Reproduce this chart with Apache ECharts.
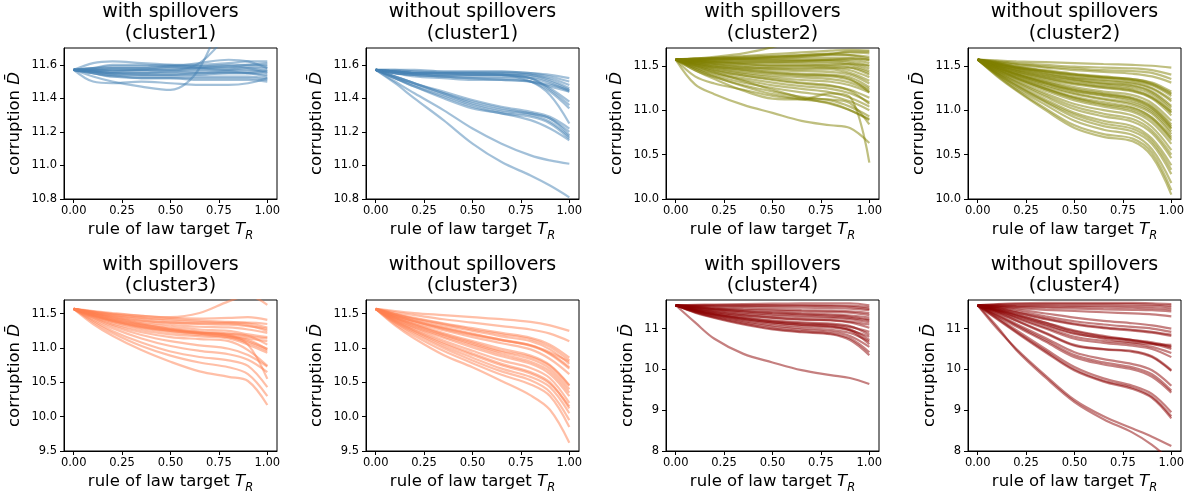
<!DOCTYPE html>
<html><head><meta charset="utf-8">
<script src="https://cdn.jsdelivr.net/npm/echarts@6/dist/echarts.min.js"></script>
<style>html,body{margin:0;padding:0;background:#fff}#c{width:1190px;height:498px}</style>
</head><body><div id="c"></div>
<script>
// x positions (rule of law target T_R) at which each curve is sampled
const X_VALUES = [0, 0.1, 0.2, 0.35, 0.5, 0.65, 0.8, 0.9, 1.0];

// with spillovers, cluster1
const withSpill1 = [
  [11.57,11.58,11.59,11.59,11.60,11.60,11.61,11.62,11.62],
  [11.57,11.57,11.58,11.58,11.59,11.59,11.60,11.60,11.60],
  [11.57,11.57,11.57,11.57,11.58,11.58,11.58,11.59,11.59],
  [11.57,11.56,11.56,11.56,11.56,11.57,11.57,11.58,11.58],
  [11.57,11.56,11.55,11.55,11.55,11.55,11.56,11.56,11.57],
  [11.57,11.56,11.55,11.54,11.54,11.54,11.55,11.55,11.56],
  [11.57,11.55,11.54,11.54,11.54,11.55,11.55,11.55,11.54],
  [11.57,11.56,11.55,11.55,11.56,11.56,11.56,11.55,11.53],
  [11.57,11.55,11.53,11.53,11.53,11.53,11.53,11.53,11.52],
  [11.57,11.55,11.53,11.52,11.52,11.52,11.52,11.52,11.51],
  [11.57,11.56,11.54,11.52,11.52,11.51,11.51,11.51,11.50],
  [11.57,11.61,11.62,11.61,11.60,11.59,11.59,11.58,11.56],
  [11.57,11.58,11.58,11.58,11.59,11.61,11.63,11.62,11.58],
  [11.57,11.50,11.49,11.50,11.49,11.48,11.48,11.49,11.52],
  [11.57,11.53,11.50,11.47,11.45,11.58,12.00,12.30,12.60],
  [11.57,11.57,11.57,11.57,11.57,11.61,11.80,12.00,12.20],
  [11.57,11.58,11.60,11.60,11.59,11.58,11.57,11.57,11.55],
  [11.57,11.57,11.56,11.57,11.57,11.58,11.59,11.60,11.61]
];

// without spillovers, cluster1
const withoutSpill1 = [
  [11.57,11.57,11.57,11.56,11.56,11.56,11.55,11.54,11.52],
  [11.57,11.57,11.56,11.56,11.56,11.56,11.55,11.53,11.50],
  [11.57,11.56,11.56,11.55,11.55,11.55,11.54,11.52,11.48],
  [11.57,11.56,11.55,11.55,11.55,11.55,11.54,11.51,11.46],
  [11.57,11.56,11.55,11.54,11.54,11.54,11.53,11.50,11.45],
  [11.57,11.55,11.54,11.53,11.53,11.53,11.52,11.49,11.44],
  [11.57,11.55,11.53,11.52,11.51,11.51,11.50,11.48,11.45],
  [11.57,11.55,11.54,11.53,11.52,11.51,11.50,11.47,11.44],
  [11.57,11.56,11.55,11.54,11.54,11.54,11.52,11.46,11.38],
  [11.57,11.56,11.55,11.55,11.55,11.54,11.52,11.45,11.36],
  [11.57,11.55,11.54,11.53,11.52,11.52,11.50,11.44,11.34],
  [11.57,11.56,11.55,11.55,11.54,11.54,11.50,11.42,11.25],
  [11.57,11.53,11.49,11.44,11.39,11.35,11.32,11.29,11.22],
  [11.57,11.53,11.49,11.43,11.38,11.34,11.31,11.28,11.20],
  [11.57,11.52,11.48,11.42,11.36,11.32,11.30,11.26,11.17],
  [11.57,11.52,11.47,11.41,11.35,11.31,11.29,11.25,11.16],
  [11.57,11.52,11.47,11.40,11.34,11.31,11.27,11.22,11.15],
  [11.57,11.53,11.49,11.43,11.37,11.33,11.31,11.28,11.18],
  [11.57,11.50,11.43,11.33,11.22,11.13,11.06,11.03,11.01],
  [11.57,11.49,11.40,11.27,11.13,11.02,10.94,10.88,10.81]
];

// with spillovers, cluster2
const withSpill2 = [
  [11.57,11.58,11.60,11.64,11.71,11.80,11.90,12.00,12.10],
  [11.57,11.58,11.59,11.61,11.63,11.65,11.67,11.68,11.67],
  [11.57,11.58,11.59,11.60,11.61,11.62,11.64,11.65,11.64],
  [11.57,11.57,11.58,11.59,11.60,11.61,11.62,11.62,11.60],
  [11.57,11.57,11.58,11.58,11.58,11.59,11.59,11.59,11.56],
  [11.57,11.57,11.57,11.57,11.57,11.57,11.57,11.57,11.53],
  [11.57,11.56,11.56,11.56,11.56,11.56,11.56,11.55,11.50],
  [11.57,11.56,11.55,11.55,11.55,11.55,11.55,11.53,11.47],
  [11.57,11.55,11.54,11.53,11.53,11.53,11.53,11.51,11.44],
  [11.57,11.55,11.53,11.52,11.51,11.51,11.50,11.48,11.40],
  [11.57,11.54,11.52,11.50,11.49,11.49,11.48,11.45,11.37],
  [11.57,11.54,11.51,11.48,11.47,11.46,11.46,11.42,11.33],
  [11.57,11.53,11.50,11.47,11.45,11.44,11.43,11.40,11.30],
  [11.57,11.53,11.49,11.46,11.43,11.41,11.40,11.37,11.26],
  [11.57,11.52,11.48,11.44,11.41,11.39,11.38,11.34,11.24],
  [11.57,11.52,11.47,11.42,11.39,11.37,11.35,11.31,11.22],
  [11.57,11.51,11.46,11.41,11.37,11.34,11.32,11.28,11.20],
  [11.57,11.50,11.44,11.39,11.35,11.31,11.28,11.23,11.14],
  [11.57,11.49,11.42,11.36,11.31,11.27,11.24,11.19,11.09],
  [11.57,11.48,11.41,11.34,11.28,11.24,11.20,11.14,11.04],
  [11.57,11.47,11.39,11.31,11.25,11.20,11.16,11.10,11.00],
  [11.57,11.45,11.37,11.28,11.21,11.15,11.11,11.04,10.93],
  [11.57,11.38,11.30,11.23,11.16,11.12,11.08,11.00,10.89],
  [11.57,11.29,11.18,11.06,10.97,10.88,10.83,10.80,10.63],
  [11.57,11.45,11.35,11.22,11.13,11.12,11.19,11.15,10.41],
  [11.57,11.47,11.38,11.27,11.18,11.13,11.12,11.08,10.84],
  [11.57,11.50,11.43,11.33,11.23,11.14,11.07,11.00,10.90],
  [11.57,11.58,11.58,11.58,11.59,11.60,11.63,11.66,11.66],
  [11.57,11.56,11.55,11.54,11.54,11.55,11.57,11.58,11.57],
  [11.57,11.55,11.52,11.49,11.47,11.47,11.48,11.48,11.42],
  [11.57,11.56,11.54,11.52,11.50,11.50,11.51,11.52,11.50],
  [11.57,11.53,11.49,11.45,11.42,11.40,11.39,11.35,11.20],
  [11.57,11.51,11.45,11.39,11.34,11.30,11.27,11.22,11.07],
  [11.57,11.57,11.57,11.58,11.60,11.62,11.63,11.62,11.58]
];

// without spillovers, cluster2
const withoutSpill2 = [
  [11.57,11.56,11.55,11.54,11.53,11.52,11.51,11.50,11.48],
  [11.57,11.55,11.53,11.51,11.49,11.48,11.47,11.45,11.40],
  [11.57,11.54,11.51,11.48,11.45,11.43,11.41,11.38,11.31],
  [11.57,11.53,11.49,11.45,11.41,11.38,11.35,11.31,11.21],
  [11.57,11.53,11.49,11.44,11.40,11.37,11.34,11.29,11.18],
  [11.57,11.52,11.48,11.43,11.39,11.36,11.33,11.28,11.16],
  [11.57,11.52,11.47,11.41,11.36,11.33,11.30,11.24,11.10],
  [11.57,11.51,11.46,11.40,11.35,11.31,11.28,11.21,11.05],
  [11.57,11.51,11.45,11.38,11.33,11.29,11.25,11.18,11.00],
  [11.57,11.50,11.44,11.37,11.31,11.27,11.23,11.15,10.97],
  [11.57,11.50,11.43,11.35,11.29,11.25,11.21,11.13,10.94],
  [11.57,11.49,11.42,11.33,11.26,11.21,11.17,11.08,10.88],
  [11.57,11.48,11.41,11.31,11.23,11.18,11.13,11.03,10.82],
  [11.57,11.48,11.40,11.30,11.21,11.16,11.10,11.00,10.79],
  [11.57,11.47,11.38,11.27,11.18,11.12,11.06,10.96,10.73],
  [11.57,11.46,11.37,11.25,11.15,11.09,11.03,10.92,10.70],
  [11.57,11.45,11.35,11.22,11.11,11.04,10.98,10.86,10.62],
  [11.57,11.44,11.33,11.19,11.07,11.00,10.94,10.81,10.55],
  [11.57,11.43,11.31,11.15,11.01,10.93,10.87,10.74,10.46],
  [11.57,11.42,11.29,11.12,10.97,10.88,10.82,10.68,10.38],
  [11.57,11.41,11.27,11.09,10.92,10.82,10.76,10.62,10.28],
  [11.57,11.40,11.25,11.06,10.88,10.78,10.72,10.56,10.18],
  [11.57,11.39,11.23,11.02,10.83,10.73,10.68,10.52,10.10],
  [11.57,11.38,11.22,11.00,10.80,10.70,10.65,10.48,10.05],
  [11.57,11.53,11.48,11.42,11.37,11.34,11.31,11.25,11.12],
  [11.57,11.50,11.44,11.36,11.30,11.26,11.22,11.14,10.98],
  [11.57,11.49,11.41,11.32,11.24,11.19,11.14,11.05,10.84],
  [11.57,11.47,11.39,11.28,11.19,11.13,11.08,10.98,10.76],
  [11.57,11.45,11.36,11.24,11.13,11.06,11.00,10.89,10.66],
  [11.57,11.43,11.32,11.17,11.04,10.96,10.90,10.77,10.50],
  [11.57,11.41,11.28,11.10,10.95,10.85,10.79,10.65,10.33],
  [11.57,11.54,11.52,11.49,11.47,11.45,11.44,11.42,11.35],
  [11.57,11.52,11.48,11.44,11.40,11.37,11.35,11.30,11.19],
  [11.57,11.51,11.46,11.39,11.34,11.30,11.27,11.20,11.03],
  [11.57,11.48,11.40,11.30,11.22,11.17,11.12,11.02,10.80],
  [11.57,11.46,11.36,11.24,11.14,11.07,11.02,10.91,10.68]
];

// with spillovers, cluster3
const withSpill3 = [
  [11.57,11.53,11.50,11.47,11.45,11.51,11.68,11.76,11.63],
  [11.57,11.54,11.51,11.47,11.44,11.43,11.44,11.45,11.41],
  [11.57,11.53,11.49,11.44,11.40,11.38,11.37,11.37,11.35],
  [11.57,11.52,11.47,11.41,11.37,11.35,11.34,11.32,11.28],
  [11.57,11.51,11.45,11.38,11.34,11.31,11.30,11.27,11.22],
  [11.57,11.50,11.44,11.36,11.31,11.27,11.25,11.20,11.16],
  [11.57,11.49,11.42,11.34,11.28,11.24,11.21,11.17,11.14],
  [11.57,11.48,11.40,11.31,11.25,11.21,11.18,11.14,11.10],
  [11.57,11.48,11.40,11.32,11.26,11.22,11.19,11.10,10.99],
  [11.57,11.47,11.38,11.29,11.23,11.19,11.16,11.08,10.96],
  [11.57,11.46,11.36,11.26,11.20,11.17,11.14,11.05,10.93],
  [11.57,11.45,11.34,11.23,11.16,11.13,11.10,10.97,10.74],
  [11.57,11.50,11.43,11.35,11.28,11.23,11.18,11.05,10.55],
  [11.57,11.44,11.32,11.19,11.10,11.04,10.99,10.90,10.73],
  [11.57,11.42,11.29,11.14,11.03,10.96,10.91,10.83,10.65],
  [11.57,11.40,11.25,11.08,10.95,10.87,10.82,10.74,10.43],
  [11.57,11.38,11.22,11.03,10.89,10.79,10.72,10.62,10.30],
  [11.57,11.35,11.18,10.97,10.80,10.66,10.58,10.52,10.17],
  [11.57,11.47,11.39,11.30,11.25,11.22,11.21,11.18,11.05],
  [11.57,11.51,11.46,11.40,11.37,11.36,11.36,11.33,11.25],
  [11.57,11.52,11.48,11.44,11.42,11.40,11.38,11.36,11.30],
  [11.57,11.49,11.41,11.33,11.27,11.21,11.16,11.12,10.98]
];

// without spillovers, cluster3
const withoutSpill3 = [
  [11.57,11.54,11.51,11.48,11.45,11.42,11.38,11.33,11.25],
  [11.57,11.52,11.48,11.42,11.37,11.32,11.27,11.21,11.10],
  [11.57,11.50,11.44,11.36,11.29,11.22,11.15,11.05,10.86],
  [11.57,11.49,11.43,11.35,11.27,11.20,11.13,11.02,10.82],
  [11.57,11.49,11.42,11.33,11.25,11.17,11.10,10.98,10.77],
  [11.57,11.47,11.39,11.29,11.20,11.12,11.04,10.91,10.70],
  [11.57,11.46,11.37,11.26,11.16,11.07,10.98,10.84,10.62],
  [11.57,11.45,11.35,11.22,11.10,10.99,10.89,10.75,10.46],
  [11.57,11.44,11.33,11.19,11.06,10.94,10.84,10.70,10.40],
  [11.57,11.42,11.30,11.15,11.01,10.88,10.77,10.62,10.30],
  [11.57,11.41,11.28,11.11,10.96,10.82,10.71,10.56,10.20],
  [11.57,11.40,11.26,11.08,10.92,10.77,10.65,10.50,10.12],
  [11.57,11.38,11.23,11.03,10.86,10.70,10.58,10.43,10.05],
  [11.57,11.37,11.21,11.00,10.82,10.66,10.53,10.36,9.95],
  [11.57,11.35,11.18,10.96,10.78,10.61,10.47,10.30,9.85],
  [11.57,11.33,11.14,10.90,10.72,10.52,10.31,10.10,9.62],
  [11.57,11.48,11.40,11.30,11.21,11.12,11.03,10.92,10.72],
  [11.57,11.44,11.34,11.20,11.08,10.96,10.87,10.74,10.45],
  [11.57,11.47,11.39,11.28,11.19,11.11,11.04,10.94,10.80],
  [11.57,11.43,11.31,11.17,11.04,10.91,10.80,10.66,10.35],
  [11.57,11.39,11.25,11.06,10.90,10.75,10.63,10.48,10.15]
];

// with spillovers, cluster4
const withSpill4 = [
  [11.57,11.58,11.59,11.60,11.61,11.62,11.62,11.62,11.57],
  [11.57,11.57,11.57,11.57,11.57,11.57,11.57,11.56,11.52],
  [11.57,11.55,11.54,11.53,11.52,11.51,11.50,11.49,11.45],
  [11.57,11.54,11.51,11.49,11.47,11.45,11.44,11.42,11.38],
  [11.57,11.52,11.48,11.43,11.40,11.37,11.35,11.32,11.27],
  [11.57,11.50,11.45,11.39,11.35,11.32,11.29,11.26,11.20],
  [11.57,11.49,11.43,11.36,11.31,11.28,11.26,11.23,11.15],
  [11.57,11.47,11.40,11.32,11.26,11.22,11.20,11.15,11.02],
  [11.57,11.45,11.36,11.26,11.18,11.13,11.10,11.04,10.92],
  [11.57,11.43,11.33,11.21,11.12,11.06,11.03,10.96,10.80],
  [11.57,11.42,11.31,11.18,11.08,11.01,10.97,10.89,10.68],
  [11.57,11.41,11.29,11.15,11.04,10.97,10.92,10.82,10.55],
  [11.57,11.40,11.27,11.12,11.00,10.93,10.88,10.76,10.42],
  [11.57,11.39,11.26,11.10,10.98,10.91,10.86,10.72,10.35],
  [11.57,11.46,11.38,11.28,11.20,11.15,11.12,11.06,10.85],
  [11.57,11.44,11.34,11.23,11.15,11.10,11.07,10.98,10.72],
  [11.57,11.51,11.47,11.42,11.38,11.35,11.32,11.29,11.22],
  [11.57,11.53,11.49,11.46,11.44,11.42,11.41,11.39,11.33],
  [11.57,11.56,11.56,11.56,11.56,11.56,11.55,11.53,11.48],
  [11.57,11.48,11.41,11.33,11.27,11.23,11.21,11.17,11.10],
  [11.57,11.45,11.35,11.24,11.15,11.09,11.05,10.95,10.62],
  [11.57,11.15,10.75,10.38,10.17,9.98,9.86,9.79,9.64]
];

// without spillovers, cluster4
const withoutSpill4 = [
  [11.57,11.00,10.50,9.85,9.25,8.85,8.55,8.35,8.12],
  [11.57,11.05,10.47,9.80,9.20,8.78,8.45,8.15,7.75],
  [11.57,11.25,10.92,10.45,10.00,9.72,9.55,9.33,8.85],
  [11.57,11.23,10.90,10.42,9.97,9.70,9.52,9.30,8.80],
  [11.57,11.28,10.96,10.50,10.06,9.78,9.60,9.40,8.95],
  [11.57,11.33,11.08,10.72,10.35,10.17,10.05,9.88,9.48],
  [11.57,11.31,11.05,10.68,10.30,10.12,10.00,9.82,9.43],
  [11.57,11.35,11.11,10.77,10.42,10.25,10.13,9.98,9.60],
  [11.57,11.40,11.20,10.90,10.60,10.50,10.45,10.32,9.98],
  [11.57,11.39,11.19,10.88,10.58,10.49,10.43,10.30,9.96],
  [11.57,11.42,11.25,11.00,10.75,10.65,10.58,10.50,10.30],
  [11.57,11.43,11.27,11.03,10.80,10.70,10.63,10.55,10.40],
  [11.57,11.44,11.30,11.08,10.87,10.78,10.72,10.63,10.50],
  [11.57,11.47,11.35,11.15,10.95,10.82,10.72,10.66,10.56],
  [11.57,11.46,11.34,11.14,10.93,10.80,10.70,10.64,10.54],
  [11.57,11.45,11.32,11.10,10.89,10.75,10.66,10.62,10.60],
  [11.57,11.50,11.40,11.25,11.12,11.03,10.97,10.92,10.85],
  [11.57,11.49,11.39,11.23,11.10,11.01,10.95,10.90,10.82],
  [11.57,11.51,11.43,11.30,11.18,11.10,11.04,11.00,10.92],
  [11.57,11.53,11.47,11.37,11.27,11.19,11.13,11.08,11.00],
  [11.57,11.60,11.62,11.63,11.63,11.63,11.63,11.62,11.60],
  [11.57,11.59,11.60,11.60,11.60,11.60,11.60,11.59,11.56],
  [11.57,11.57,11.57,11.57,11.56,11.56,11.55,11.55,11.52],
  [11.57,11.56,11.55,11.54,11.53,11.52,11.51,11.50,11.47],
  [11.57,11.55,11.53,11.51,11.49,11.47,11.46,11.45,11.42],
  [11.57,11.53,11.50,11.46,11.43,11.40,11.37,11.35,11.30]
];

const PANEL_TITLES = [
  'with spillovers\n(cluster1)', 'without spillovers\n(cluster1)',
  'with spillovers\n(cluster2)', 'without spillovers\n(cluster2)',
  'with spillovers\n(cluster3)', 'without spillovers\n(cluster3)',
  'with spillovers\n(cluster4)', 'without spillovers\n(cluster4)'
];
const PANEL_COLORS = ['#4682b4','#4682b4','#808000','#808000','#ff7f50','#ff7f50','#8b0000','#8b0000'];
const X_TICKS = [0, 0.25, 0.5, 0.75, 1.0];
const Y_TICKS_CLUSTER1 = [10.8, 11.0, 11.2, 11.4, 11.6];
const Y_TICKS_CLUSTER2 = [10.0, 10.5, 11.0, 11.5];
const Y_TICKS_CLUSTER3 = [9.5, 10.0, 10.5, 11.0, 11.5];
const Y_TICKS_CLUSTER4 = [8, 9, 10, 11];
const Y_RANGE_CLUSTER1 = [10.8, 11.7];
const Y_RANGE_CLUSTER2 = [10.0, 11.7];
const Y_RANGE_CLUSTER3 = [9.5, 11.7];
const Y_RANGE_CLUSTER4 = [8.0, 11.7];

const PANEL_DATA = [withSpill1, withoutSpill1, withSpill2, withoutSpill2, withSpill3, withoutSpill3, withSpill4, withoutSpill4];
const Y_TICKS = [Y_TICKS_CLUSTER1, Y_TICKS_CLUSTER1, Y_TICKS_CLUSTER2, Y_TICKS_CLUSTER2, Y_TICKS_CLUSTER3, Y_TICKS_CLUSTER3, Y_TICKS_CLUSTER4, Y_TICKS_CLUSTER4];
const Y_RANGES = [Y_RANGE_CLUSTER1, Y_RANGE_CLUSTER1, Y_RANGE_CLUSTER2, Y_RANGE_CLUSTER2, Y_RANGE_CLUSTER3, Y_RANGE_CLUSTER3, Y_RANGE_CLUSTER4, Y_RANGE_CLUSTER4];
const Y_DECIMALS = [1,1,1,1,1,1,0,0];

// layout
const FONT = 'DejaVu Sans';
const GRID_LEFT = [64, 366, 666, 968];
const GRID_TOP = [48, 300];
const GRID_W = 213, GRID_H = 151;
const TITLE_TOP = [1.5, 254];
const YNAME_GAP = [37, 37, 37, 37, 37, 37, 26, 26];

const grids = [], xAxes = [], yAxes = [], titles = [], series = [];
for (let p = 0; p < 8; p++) {
  const col = p % 4, row = Math.floor(p / 4);
  grids.push({left: GRID_LEFT[col], top: GRID_TOP[row], width: GRID_W, height: GRID_H,
    show: true, borderColor: '#000', borderWidth: 1, backgroundColor: 'transparent'});
  titles.push({text: PANEL_TITLES[p], left: GRID_LEFT[col] + GRID_W / 2, top: TITLE_TOP[row],
    textAlign: 'center', padding: 0,
    textStyle: {fontFamily: FONT, fontSize: 19, fontWeight: 'normal', color: '#000', lineHeight: 21.5}});
  xAxes.push({gridIndex: p, type: 'value', min: -0.05, max: 1.05,
    splitLine: {show: false},
    axisLine: {show: true, onZero: false, lineStyle: {color: '#000', width: 1}},
    axisTick: {show: true, inside: false, length: 4, customValues: X_TICKS, lineStyle: {color: '#000', width: 1}},
    axisLabel: {customValues: X_TICKS, formatter: v => v.toFixed(2), fontFamily: FONT, fontSize: 11.5, color: '#000', margin: 6},
    name: 'rule of law target {it|T}{sub|R}', nameLocation: 'middle', nameGap: 17,
    nameTextStyle: {fontFamily: FONT, fontSize: 16.5, color: '#000', lineHeight: 24,
      rich: {it: {fontFamily: FONT, fontSize: 16.5, fontStyle: 'italic', color: '#000', lineHeight: 24},
             sub: {fontFamily: FONT, fontSize: 11.5, fontStyle: 'italic', color: '#000', lineHeight: 10, verticalAlign: 'bottom'}}}
  });
  const dec = Y_DECIMALS[p];
  yAxes.push({gridIndex: p, type: 'value', min: Y_RANGES[p][0], max: Y_RANGES[p][1],
    splitLine: {show: false},
    axisLine: {show: true, onZero: false, lineStyle: {color: '#000', width: 1}},
    axisTick: {show: true, inside: false, length: 4, customValues: Y_TICKS[p], lineStyle: {color: '#000', width: 1}},
    axisLabel: {customValues: Y_TICKS[p], formatter: v => v.toFixed(dec), fontFamily: FONT, fontSize: 11.5, color: '#000', margin: 7},
    name: 'corruption {it|D\u0304}', nameLocation: 'middle', nameRotate: 90, nameGap: YNAME_GAP[p],
    nameTextStyle: {fontFamily: FONT, fontSize: 16.5, color: '#000', lineHeight: 24,
      rich: {it: {fontFamily: FONT, fontSize: 16.5, fontStyle: 'italic', color: '#000', lineHeight: 24}}}
  });
  PANEL_DATA[p].forEach(line => {
    series.push({type: 'line', xAxisIndex: p, yAxisIndex: p,
      data: X_VALUES.map((x, k) => [x, line[k]]),
      smooth: 0.35, showSymbol: false, symbol: 'none', clip: true, silent: true,
      lineStyle: {color: PANEL_COLORS[p], width: 2.2, opacity: 0.5}, z: 2});
  });
}

const chart = echarts.init(document.getElementById('c'), null, {renderer: 'canvas'});
chart.setOption({animation: false, backgroundColor: '#fff', title: titles, grid: grids, xAxis: xAxes, yAxis: yAxes, series: series, tooltip: {show: false}});
</script>
</body></html>
